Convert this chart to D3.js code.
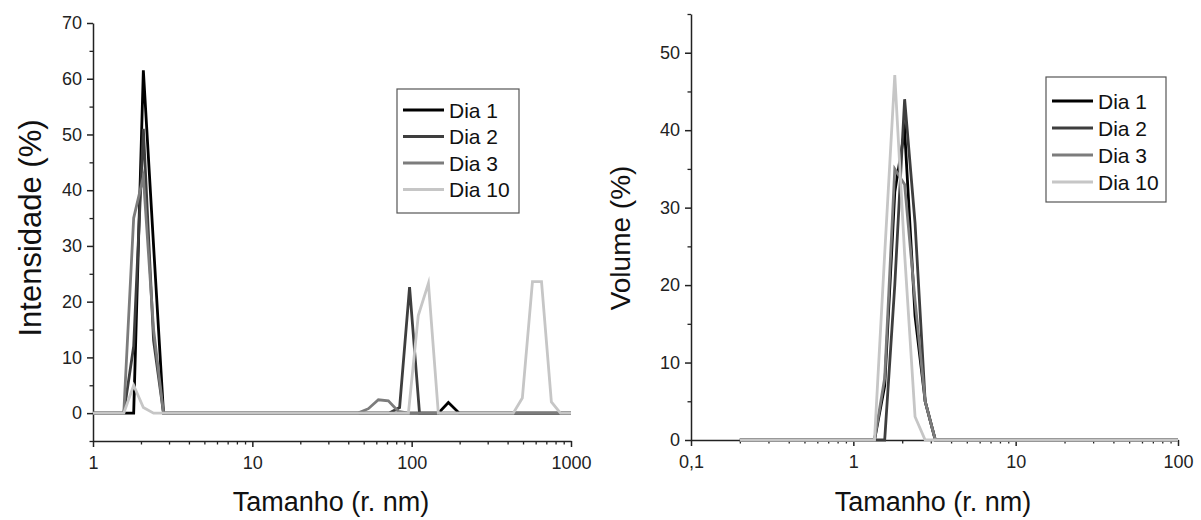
<!DOCTYPE html>
<html><head><meta charset="utf-8">
<script src="https://cdn.jsdelivr.net/npm/d3@7"></script>
<style>
html,body{margin:0;padding:0;background:#fff;}
svg{display:block;font-family:"Liberation Sans",Arial,sans-serif;}
</style></head>
<body><svg id="c" width="1201" height="520"></svg>
<script>
// ---------- data ----------
const seriesNames = ["Dia 1", "Dia 2", "Dia 3", "Dia 10"];
const seriesColors = ["#000000", "#3e3e3e", "#7c7c7c", "#c6c6c6"];

// Intensity (left panel)
const intDia1X = [1, 1.56, 1.8, 2.07, 2.4, 2.77, 147, 170, 199, 1000];
const intDia1Y = [0, 0, 0, 61.5, 30, 0, 0, 1.9, 0, 0];
const intDia2X = [1, 1.56, 1.8, 2.07, 2.4, 2.77, 72, 84, 97, 112, 1000];
const intDia2Y = [0, 0, 12, 51, 13, 0, 0, 1, 22.6, 0, 0];
const intDia3X = [1, 1.56, 1.8, 2.07, 2.4, 2.77, 46, 53.5, 61.8, 71.4, 82.6, 95.4, 1000];
const intDia3Y = [0, 0, 35, 42.4, 15, 0, 0, 0.8, 2.4, 2.2, 0.3, 0, 0];
const intDia10X = [1, 1.56, 1.8, 2.07, 2.4, 95.4, 110, 127.4, 147, 434, 495, 573, 653, 753, 859, 1000];
const intDia10Y = [0, 0, 5, 1, 0, 0, 17.5, 23.3, 0, 0, 2.7, 23.6, 23.6, 2, 0, 0];

// Volume (right panel)
const volDia1X = [0.2, 1.35, 1.56, 1.8, 2.07, 2.4, 2.77, 3.2, 100];
const volDia1Y = [0, 0, 7, 32, 40, 16, 5, 0, 0];
const volDia2X = [0.2, 1.56, 1.8, 2.07, 2.4, 2.77, 3.2, 100];
const volDia2Y = [0, 0, 20, 44, 28, 5, 0, 0];
const volDia3X = [0.2, 1.35, 1.56, 1.8, 2.07, 2.4, 2.77, 3.2, 100];
const volDia3Y = [0, 0, 8, 35, 33, 18, 5, 0, 0];
const volDia10X = [0.2, 1.35, 1.56, 1.8, 2.07, 2.4, 2.77, 100];
const volDia10Y = [0, 0, 24, 47.1, 24, 3, 0, 0];

// ticks
const leftXTicks = [1, 10, 100, 1000];
const leftXTickLabels = ["1", "10", "100", "1000"];
const leftYTicks = [0, 10, 20, 30, 40, 50, 60, 70];
const leftYMinor = [-5, 5, 15, 25, 35, 45, 55, 65];
const rightXTicks = [0.1, 1, 10, 100];
const rightXTickLabels = ["0,1", "1", "10", "100"];
const rightYTicks = [0, 10, 20, 30, 40, 50];
const rightYMinor = [5, 15, 25, 35, 45, 55];
const xTitle = "Tamanho (r. nm)";
const leftYTitle = "Intensidade (%)";
const rightYTitle = "Volume (%)";

// ---------- drawing ----------
const svg = d3.select("#c");
const FONT = "Liberation Sans, Arial, sans-serif";

function zip(xs, ys) { return xs.map((x, i) => [x, ys[i]]); }

function minorLog(domain) {
  const out = [];
  for (let d = domain[0]; d < domain[1]; d *= 10)
    for (let k = 2; k <= 9; k++) out.push(d * k);
  return out;
}

function panel(opt) {
  const g = svg.append("g");
  const x = d3.scaleLog().domain(opt.xDomain).range(opt.xRange);
  const y = d3.scaleLinear().domain(opt.yDomain).range(opt.yRange);
  const yBase = y(opt.yDomain[0]);
  const xLeft = opt.xRange[0];

  // x axis major
  const xa = g.append("g").attr("transform", `translate(0,${yBase})`)
    .call(d3.axisBottom(x).tickValues(opt.xTicks).tickSize(6).tickSizeOuter(0).tickPadding(9)
      .tickFormat((d, i) => opt.xTickLabels[i]));
  xa.attr("font-size", 18).attr("font-family", FONT);
  xa.select(".domain").attr("stroke", "#222").attr("stroke-width", 1.5);
  xa.selectAll(".tick line").attr("stroke", "#222").attr("stroke-width", 1.5);
  xa.selectAll(".tick text").attr("fill", "#222");
  // x axis minor
  const xm = g.append("g").attr("transform", `translate(0,${yBase})`)
    .call(d3.axisBottom(x).tickValues(minorLog(opt.xDomain)).tickSize(3.5).tickSizeOuter(0).tickFormat(""));
  xm.select(".domain").remove();
  xm.selectAll(".tick line").attr("stroke", "#222").attr("stroke-width", 1.3);

  // y axis major
  const ya = g.append("g").attr("transform", `translate(${xLeft},0)`)
    .call(d3.axisLeft(y).tickValues(opt.yTicks).tickSize(6).tickSizeOuter(0).tickPadding(5));
  ya.attr("font-size", 18).attr("font-family", FONT);
  ya.select(".domain").attr("stroke", "#222").attr("stroke-width", 1.5);
  ya.selectAll(".tick line").attr("stroke", "#222").attr("stroke-width", 1.5);
  ya.selectAll(".tick text").attr("fill", "#222");
  const ym = g.append("g").attr("transform", `translate(${xLeft},0)`)
    .call(d3.axisLeft(y).tickValues(opt.yMinor).tickSize(3.5).tickSizeOuter(0).tickFormat(""));
  ym.select(".domain").remove();
  ym.selectAll(".tick line").attr("stroke", "#222").attr("stroke-width", 1.3);

  // lines
  const line = d3.line().x(d => x(d[0])).y(d => y(d[1]));
  opt.series.forEach((s, i) => {
    g.append("path").datum(s).attr("d", line).attr("fill", "none")
      .attr("stroke", seriesColors[i]).attr("stroke-width", 2.8)
      .attr("stroke-linejoin", "miter").attr("stroke-miterlimit", 10);
  });

  // titles
  g.append("text").attr("x", opt.xTitleX).attr("y", 511).attr("text-anchor", "middle")
    .attr("font-size", 27).attr("fill", "#111").text(xTitle);
  g.append("text").attr("transform", `translate(${opt.yTitleX},${opt.yTitleY}) rotate(-90)`)
    .attr("text-anchor", "middle").attr("font-size", opt.yTitleSize).attr("fill", "#111").text(opt.yTitle);

  // legend
  const L = opt.legend;
  const lg = g.append("g");
  lg.append("rect").attr("x", L.x).attr("y", L.y).attr("width", L.w).attr("height", L.h)
    .attr("fill", "#fff").attr("stroke", "#555").attr("stroke-width", 1.2);
  seriesNames.forEach((n, i) => {
    const yy = L.y0 + i * L.dy;
    lg.append("line").attr("x1", L.x + 6).attr("x2", L.x + 47).attr("y1", yy).attr("y2", yy)
      .attr("stroke", seriesColors[i]).attr("stroke-width", 3);
    lg.append("text").attr("x", L.x + 52).attr("y", yy + 7.5).attr("font-size", 21)
      .attr("fill", "#111").text(n);
  });
}

panel({
  xDomain: [1, 1000], xRange: [93, 571],
  yDomain: [-5, 70], yRange: [441, 23],
  xTicks: leftXTicks, xTickLabels: leftXTickLabels,
  yTicks: leftYTicks, yMinor: leftYMinor,
  series: [zip(intDia1X, intDia1Y), zip(intDia2X, intDia2Y), zip(intDia3X, intDia3Y), zip(intDia10X, intDia10Y)],
  xTitleX: 331, yTitleX: 41, yTitleY: 228, yTitle: leftYTitle, yTitleSize: 31,
  legend: { x: 397, y: 89, w: 122, h: 124, y0: 110, dy: 26.5 }
});

panel({
  xDomain: [0.1, 100], xRange: [691, 1178],
  yDomain: [0, 55], yRange: [440, 14],
  xTicks: rightXTicks, xTickLabels: rightXTickLabels,
  yTicks: rightYTicks, yMinor: rightYMinor,
  series: [zip(volDia1X, volDia1Y), zip(volDia2X, volDia2Y), zip(volDia3X, volDia3Y), zip(volDia10X, volDia10Y)],
  xTitleX: 933, yTitleX: 630, yTitleY: 238, yTitle: rightYTitle, yTitleSize: 28,
  legend: { x: 1046, y: 77, w: 120, h: 125, y0: 101, dy: 27 }
});
</script></body></html>
